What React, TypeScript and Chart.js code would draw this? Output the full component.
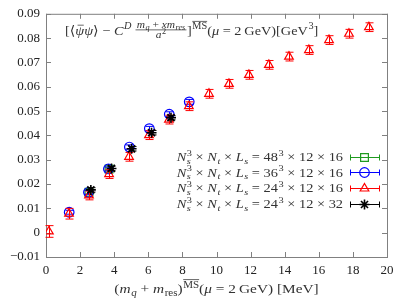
import React, { useEffect, useRef } from 'react';
import { Chart, registerables } from 'chart.js';
Chart.register(...registerables);

const FONT = '"Liberation Serif", "DejaVu Serif", serif';

const xTicks = [0, 2, 4, 6, 8, 10, 12, 14, 16, 18, 20];
const xTickLabels = ['0', '2', '4', '6', '8', '10', '12', '14', '16', '18', '20'];
const yTicks = [-0.01, 0, 0.01, 0.02, 0.03, 0.04, 0.05, 0.06, 0.07, 0.08, 0.09];
const yTickLabels = ['\u22120.01', '0', '0.01', '0.02', '0.03', '0.04', '0.05', '0.06', '0.07', '0.08', '0.09'];

const greenX = [2.52, 3.7];
const greenY = [0.0166, 0.0262];
const greenErr = [0.0008, 0.0008];

const blueX = [1.36, 2.49, 3.66, 4.89, 6.06, 7.23, 8.4];
const blueY = [0.0084, 0.0166, 0.0262, 0.0352, 0.0428, 0.0487, 0.0538];
const blueErr = [0.0008, 0.0008, 0.0008, 0.0009, 0.0009, 0.001, 0.001];

const redX = [0.17, 1.35, 2.52, 3.7, 4.87, 6.04, 7.21, 8.38, 9.56, 10.73, 11.9, 13.07, 14.25, 15.42, 16.6, 17.77, 18.94];
const redY = [0.0005, 0.0078, 0.0153, 0.0241, 0.0312, 0.0401, 0.0465, 0.052, 0.0571, 0.0612, 0.0649, 0.069, 0.0724, 0.0751, 0.0792, 0.0818, 0.0845];
const redErr = [0.0024, 0.0022, 0.0018, 0.0018, 0.0018, 0.0018, 0.0018, 0.0018, 0.0018, 0.0018, 0.0018, 0.0018, 0.0018, 0.0018, 0.0018, 0.0018, 0.0018];

const blackX = [2.63, 3.84, 5.02, 6.19, 7.33];
const blackY = [0.0176, 0.0264, 0.0345, 0.0411, 0.0473];
const blackErr = [0.0009, 0.0009, 0.0009, 0.0009, 0.0009];

const legendNs = ['48', '36', '24', '24'];
const legendNt = ['12', '12', '12', '12'];
const legendLs = ['16', '16', '16', '32'];

type Seg = {
  t?: string;
  it?: boolean;
  sup?: string;
  supIt?: boolean;
  sub?: string;
  subIt?: boolean;
  supOver?: boolean;
  over?: boolean;
  frac?: [Seg[], Seg[]];
};

const FRAC = 0.8;
const fontOf = (size: number, it?: boolean) => `${it ? 'italic ' : ''}${size}px ${FONT}`;

function measure(ctx: CanvasRenderingContext2D, segs: Seg[], fs: number): number {
  let w = 0;
  for (const s of segs) {
    if (s.frac) {
      w += Math.max(measure(ctx, s.frac[0], fs * FRAC), measure(ctx, s.frac[1], fs * FRAC)) + 3;
      continue;
    }
    ctx.font = fontOf(fs, s.it);
    w += ctx.measureText(s.t || '').width;
    let sw = 0;
    if (s.sup) { ctx.font = fontOf(fs * 0.72, s.supIt); sw = Math.max(sw, ctx.measureText(s.sup).width); }
    if (s.sub) { ctx.font = fontOf(fs * 0.72, s.subIt); sw = Math.max(sw, ctx.measureText(s.sub).width); }
    if (sw) w += sw + 0.5;
  }
  return w;
}

function drawSegs(ctx: CanvasRenderingContext2D, segs: Seg[], x0: number, base: number, fs: number): number {
  let x = x0;
  ctx.textAlign = 'left';
  ctx.textBaseline = 'alphabetic';
  for (const s of segs) {
    if (s.frac) {
      const fsz = fs * FRAC;
      const wn = measure(ctx, s.frac[0], fsz);
      const wd = measure(ctx, s.frac[1], fsz);
      const w = Math.max(wn, wd) + 3;
      const bar = base - fs * 0.38;
      drawSegs(ctx, s.frac[0], x + (w - wn) / 2, bar - 1.8, fsz);
      drawSegs(ctx, s.frac[1], x + (w - wd) / 2, bar + fsz * 0.66 + 1.2, fsz);
      ctx.beginPath();
      ctx.lineWidth = 0.7;
      ctx.moveTo(x + 0.5, bar);
      ctx.lineTo(x + w - 0.5, bar);
      ctx.stroke();
      x += w;
      continue;
    }
    ctx.font = fontOf(fs, s.it);
    const t = s.t || '';
    ctx.fillText(t, x, base);
    const tw = ctx.measureText(t).width;
    if (s.over) {
      ctx.beginPath();
      ctx.lineWidth = 0.7;
      const oy = base - fs * 0.74;
      ctx.moveTo(x + tw * 0.25, oy);
      ctx.lineTo(x + tw * 0.95, oy);
      ctx.stroke();
    }
    x += tw;
    let sw = 0;
    const ss = fs * 0.72;
    if (s.sup) {
      ctx.font = fontOf(ss, s.supIt);
      const yb = base - fs * 0.42;
      ctx.fillText(s.sup, x + 0.5, yb);
      const w = ctx.measureText(s.sup).width;
      if (s.supOver) {
        ctx.beginPath();
        ctx.lineWidth = 0.7;
        const oy = yb - ss * 0.72 - 1.2;
        ctx.moveTo(x + 0.5, oy);
        ctx.lineTo(x + 0.5 + w, oy);
        ctx.stroke();
      }
      sw = Math.max(sw, w);
    }
    if (s.sub) {
      ctx.font = fontOf(ss, s.subIt);
      ctx.fillText(s.sub, x + 0.5, base + fs * 0.2);
      sw = Math.max(sw, ctx.measureText(s.sub).width);
    }
    if (sw) x += sw + 0.5;
  }
  return x - x0;
}

// draw rich text with a horizontal stretch (Computer Modern is wider than Liberation Serif)
function drawRich(ctx: CanvasRenderingContext2D, segs: Seg[], x: number, base: number, fs: number, sx: number, align: 'left' | 'right' | 'center') {
  const w = measure(ctx, segs, fs) * sx;
  const left = align === 'left' ? x : align === 'right' ? x - w : x - w / 2;
  ctx.save();
  ctx.translate(left, 0);
  ctx.scale(sx, 1);
  drawSegs(ctx, segs, 0, base, fs);
  ctx.restore();
}

function drawMarker(ctx: CanvasRenderingContext2D, style: string, x: number, y: number, r: number) {
  ctx.beginPath();
  if (style === 'circle') {
    ctx.arc(x, y, r, 0, Math.PI * 2);
  } else if (style === 'triangle') {
    let a = 0;
    ctx.moveTo(x + Math.sin(a) * r, y - Math.cos(a) * r);
    a += (2 * Math.PI) / 3;
    ctx.lineTo(x + Math.sin(a) * r, y - Math.cos(a) * r);
    a += (2 * Math.PI) / 3;
    ctx.lineTo(x + Math.sin(a) * r, y - Math.cos(a) * r);
    ctx.closePath();
  } else if (style === 'rect') {
    const s = r * Math.SQRT1_2;
    ctx.rect(x - s, y - s, 2 * s, 2 * s);
  } else if (style === 'star') {
    for (let k = 0; k < 4; k++) {
      const a = (k * Math.PI) / 4;
      ctx.moveTo(x - Math.cos(a) * r, y - Math.sin(a) * r);
      ctx.lineTo(x + Math.cos(a) * r, y + Math.sin(a) * r);
    }
  }
  ctx.stroke();
}

const framePlugin = {
  id: 'frame',
  beforeDatasetsDraw(chart: any) {
    const { ctx, chartArea: a, scales } = chart;
    ctx.save();
    ctx.strokeStyle = '#808080';
    ctx.lineWidth = 1;
    ctx.strokeRect(a.left + 0.5, a.top + 0.5, a.right - a.left, a.bottom - a.top);
    ctx.beginPath();
    const L = 5;
    for (const v of xTicks) {
      const px = Math.round(scales.x.getPixelForValue(v)) + 0.5;
      ctx.moveTo(px, a.bottom); ctx.lineTo(px, a.bottom - L);
      ctx.moveTo(px, a.top); ctx.lineTo(px, a.top + L);
    }
    for (const v of yTicks) {
      const py = Math.round(scales.y.getPixelForValue(v)) + 0.5;
      ctx.moveTo(a.left, py); ctx.lineTo(a.left + L, py);
      ctx.moveTo(a.right, py); ctx.lineTo(a.right - L, py);
    }
    ctx.stroke();
    ctx.restore();
  },
};

const errPlugin = {
  id: 'err',
  beforeDatasetDraw(chart: any, args: any) {
    const ds = chart.data.datasets[args.index];
    const errs: number[] = ds.errs;
    const ctx = chart.ctx;
    const ys = chart.scales.y;
    ctx.save();
    ctx.strokeStyle = ds.borderColor;
    ctx.lineWidth = 1;
    ctx.beginPath();
    args.meta.data.forEach((pt: any, i: number) => {
      const d = ds.data[i];
      const top = ys.getPixelForValue(d.y + errs[i]);
      const bot = ys.getPixelForValue(d.y - errs[i]);
      const cx = Math.round(pt.x) + 0.5;
      ctx.moveTo(cx, top); ctx.lineTo(cx, bot);
      ctx.moveTo(cx - 4, top); ctx.lineTo(cx + 4, top);
      ctx.moveTo(cx - 4, bot); ctx.lineTo(cx + 4, bot);
    });
    ctx.stroke();
    ctx.restore();
  },
};

const textPlugin = {
  id: 'texts',
  afterDraw(chart: any) {
    const { ctx, chartArea: a } = chart;
    ctx.save();
    ctx.fillStyle = '#333';
    ctx.strokeStyle = '#333';
    // title inside plot
    const title: Seg[] = [
      { t: '[\u27e8' },
      { t: '\u03c8', it: true, over: true },
      { t: '\u03c8', it: true },
      { t: '\u27e9 \u2212 ' },
      { t: 'C', it: true, sup: 'D', supIt: true },
      { t: ' ' },
      {
        frac: [
          [{ t: 'm', it: true, sub: 'q', subIt: true }, { t: ' + ' }, { t: 'xm', it: true, sub: 'res', subIt: true }],
          [{ t: 'a', it: true, sup: '2' }],
        ],
      },
      { t: ']', sup: 'MS', supOver: true },
      { t: '(' },
      { t: '\u03bc', it: true },
      { t: ' = 2\u2009GeV)[GeV', sup: '3' },
      { t: ']' },
    ];
    drawRich(ctx, title, a.left + 19, a.top + 21, 13, 1.1, 'left');

    // x axis title
    const xt: Seg[] = [
      { t: '(' },
      { t: 'm', it: true, sub: 'q', subIt: true },
      { t: ' + ' },
      { t: 'm', it: true, sub: 'res' },
      { t: ')', sup: 'MS', supOver: true },
      { t: '(' },
      { t: '\u03bc', it: true },
      { t: ' = 2\u2009GeV) [MeV]' },
    ];
    drawRich(ctx, xt, (a.left + a.right) / 2, 293, 13, 1.18, 'center');

    // legend
    const colors = ['#1f9a1f', '#0000ff', '#ff0000', '#000000'];
    const styles = ['rect', 'circle', 'triangle', 'star'];
    const radii = [5.5, 4.8, 5, 5];
    const rowY = [156.7, 172.4, 188.1, 203.8];
    const textRight = 343;
    for (let i = 0; i < 4; i++) {
      const segs: Seg[] = [
        { t: 'N', it: true, sup: '3', sub: 's', subIt: true },
        { t: ' \u00d7 ' },
        { t: 'N', it: true, sub: 't', subIt: true },
        { t: ' \u00d7 ' },
        { t: 'L', it: true, sub: 's', subIt: true },
        { t: ' = ' + legendNs[i], sup: '3' },
        { t: ' \u00d7 ' + legendNt[i] + ' \u00d7 ' + legendLs[i] },
      ];
      ctx.fillStyle = '#333';
      ctx.strokeStyle = '#333';
      drawRich(ctx, segs, textRight, rowY[i] + 4.3, 12.5, 1.15, 'right');
      const yy = Math.round(rowY[i]) + 0.5;
      ctx.strokeStyle = colors[i];
      ctx.lineWidth = 1;
      ctx.beginPath();
      ctx.moveTo(350, yy); ctx.lineTo(380, yy);
      ctx.moveTo(350.5, yy - 3); ctx.lineTo(350.5, yy + 3);
      ctx.moveTo(379.5, yy - 3); ctx.lineTo(379.5, yy + 3);
      ctx.stroke();
      ctx.lineWidth = i === 3 ? 1.6 : 1.2;
      drawMarker(ctx, styles[i], 364.5, yy, radii[i]);
    }
    ctx.restore();
  },
};

function pts(xs: number[], ys: number[]) {
  return xs.map((x, i) => ({ x, y: ys[i] }));
}

export default function App() {
  const ref = useRef<HTMLCanvasElement>(null);
  useEffect(() => {
    document.body.style.margin = '0';
    const canvas = ref.current!;
    const mk = (label: string, xs: number[], ys: number[], errs: number[], color: string, style: string, r: number, bw: number, order: number) => ({
      label,
      data: pts(xs, ys),
      errs,
      borderColor: color,
      backgroundColor: 'rgba(0,0,0,0)',
      pointStyle: style,
      pointRadius: r,
      pointBorderWidth: bw,
      showLine: false,
      order,
    });
    const chart = new Chart(canvas, {
      type: 'scatter',
      data: {
        datasets: [
          mk('48', greenX, greenY, greenErr, '#1f9a1f', 'rect', 5.5, 1.2, 3),
          mk('36', blueX, blueY, blueErr, '#0000ff', 'circle', 4.8, 1.2, 2),
          mk('24x16', redX, redY, redErr, '#ff0000', 'triangle', 5, 1.2, 1),
          mk('24x32', blackX, blackY, blackErr, '#000000', 'star', 5, 1.6, 0),
        ] as any,
      },
      options: {
        animation: false,
        responsive: false,
        layout: { padding: { top: 13, right: 20, left: 0, bottom: 0 } },
        plugins: { legend: { display: false }, tooltip: { enabled: false } },
        scales: {
          x: {
            type: 'linear',
            min: 0,
            max: 20,
            grid: { display: false, drawTicks: false, tickLength: 0 },
            border: { display: false },
            afterBuildTicks: (s: any) => { s.ticks = xTicks.map((v) => ({ value: v })); },
            afterFit: (s: any) => { s.height = 41; },
            ticks: {
              padding: 6,
              color: '#222',
              maxRotation: 0,
              font: { family: FONT, size: 13 },
              callback: (_v: any, i: number) => xTickLabels[i],
            },
          },
          y: {
            type: 'linear',
            min: -0.01,
            max: 0.09,
            grid: { display: false, drawTicks: false, tickLength: 0 },
            border: { display: false },
            afterBuildTicks: (s: any) => { s.ticks = yTicks.map((v) => ({ value: v })); },
            afterFit: (s: any) => { s.width = 46; },
            ticks: {
              padding: 6,
              color: '#222',
              font: { family: FONT, size: 13 },
              callback: (_v: any, i: number) => yTickLabels[i],
            },
          },
        },
      },
      plugins: [framePlugin, errPlugin, textPlugin],
    });
    return () => chart.destroy();
  }, []);
  return <canvas ref={ref} width={407} height={298} style={{ display: 'block' }} />;
}
